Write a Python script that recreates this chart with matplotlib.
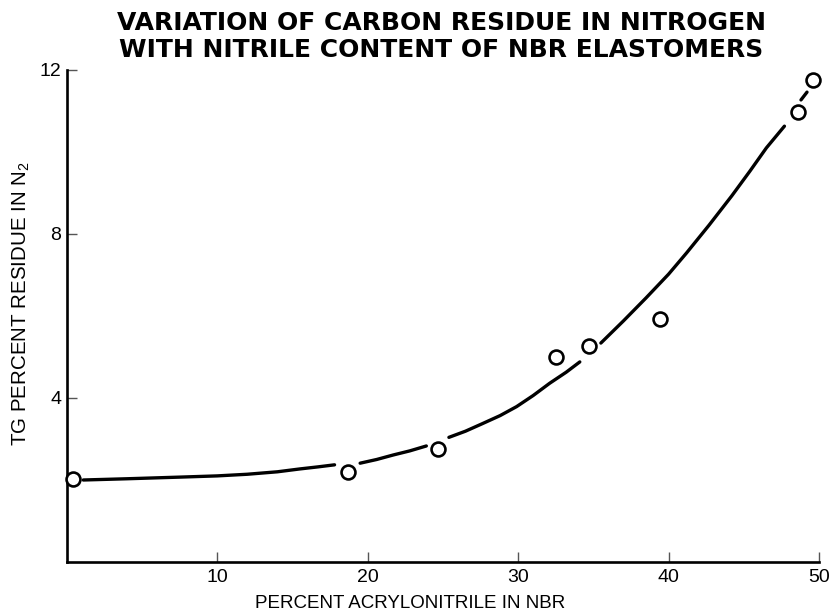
import numpy as np
import matplotlib
matplotlib.use("Agg")
import matplotlib.pyplot as plt

plt.rcParams['font.family'] = ['Liberation Sans', 'DejaVu Sans']
plt.rcParams['mathtext.fontset'] = 'custom'
plt.rcParams['mathtext.rm'] = 'Liberation Sans'
plt.rcParams['mathtext.it'] = 'Liberation Sans'

# Measured points
acrylonitrile = [0.4, 18.7, 24.7, 32.5, 34.7, 39.4, 48.6, 49.6]
residue = [2.02, 2.2, 2.76, 5.0, 5.27, 5.93, 10.98, 11.76]

# Hand-drawn trend curve, NaN marks the gaps around markers
curve_x = [1.1, 4.0, 7.5, 10.0, 12.0, 14.0, 15.5, 16.7, 17.8, np.nan,
           19.5, 20.6, 21.7, 22.8, 23.9, np.nan,
           25.4, 26.5, 27.6, 28.8, 29.9, 31.0, 32.1, 33.2, 34.1, np.nan,
           35.5, 37.0, 38.5, 40.0, 41.2, 42.7, 44.2, 45.4, 46.5, 47.7, np.nan,
           48.8, 49.2]
curve_y = [2.0, 2.03, 2.07, 2.1, 2.14, 2.2, 2.27, 2.32, 2.37, np.nan,
           2.41, 2.5, 2.61, 2.71, 2.83, np.nan,
           3.04, 3.19, 3.37, 3.57, 3.79, 4.06, 4.36, 4.63, 4.88, np.nan,
           5.34, 5.88, 6.44, 7.02, 7.54, 8.22, 8.93, 9.53, 10.1, 10.63, np.nan,
           11.27, 11.46]

x_ticks = [10, 20, 30, 40, 50]
y_ticks = [4, 8, 12]

title_lines = ["VARIATION OF CARBON RESIDUE IN NITROGEN",
               "WITH NITRILE CONTENT OF NBR ELASTOMERS"]
xlabel = "PERCENT ACRYLONITRILE IN NBR"
ylabel = r"TG PERCENT RESIDUE IN N$_\mathregular{2}$"

fig = plt.figure(figsize=(8.31, 6.14), dpi=100)
ax = fig.add_axes([0.0803, 0.0847, 0.9053, 0.8013])

ax.plot(curve_x, curve_y, color='black', lw=2.4, solid_capstyle='round',
        solid_joinstyle='round', zorder=2)
ax.plot(acrylonitrile, residue, linestyle='none', marker='o', markersize=10,
        markerfacecolor='white', markeredgecolor='black', markeredgewidth=1.9,
        zorder=3, clip_on=False)

ax.set_xlim(0, 50)
ax.set_ylim(0, 12)
ax.set_xticks(x_ticks)
ax.set_yticks(y_ticks)
ax.spines['top'].set_visible(False)
ax.spines['right'].set_visible(False)
ax.spines['left'].set_linewidth(1.9)
ax.spines['bottom'].set_linewidth(1.9)
ax.tick_params(direction='in', length=7, width=1.0, color='#555555',
               labelsize=14, labelcolor='black')
ax.tick_params(axis='x', pad=5)
ax.tick_params(axis='y', pad=4)

fig.text(0.531, 1 - 30 / 614, title_lines[0], ha='center', va='baseline',
         fontsize=18, fontweight='bold', family='DejaVu Sans')
fig.text(0.531, 1 - 57 / 614, title_lines[1], ha='center', va='baseline',
         fontsize=18, fontweight='bold', family='DejaVu Sans')
fig.text(0.494, 0.003, xlabel, ha='center', va='bottom', fontsize=13.5)
fig.text(0.013, 0.505, ylabel, ha='left', va='center', rotation=90, fontsize=14.8)

fig.savefig("out.png", dpi=100)
